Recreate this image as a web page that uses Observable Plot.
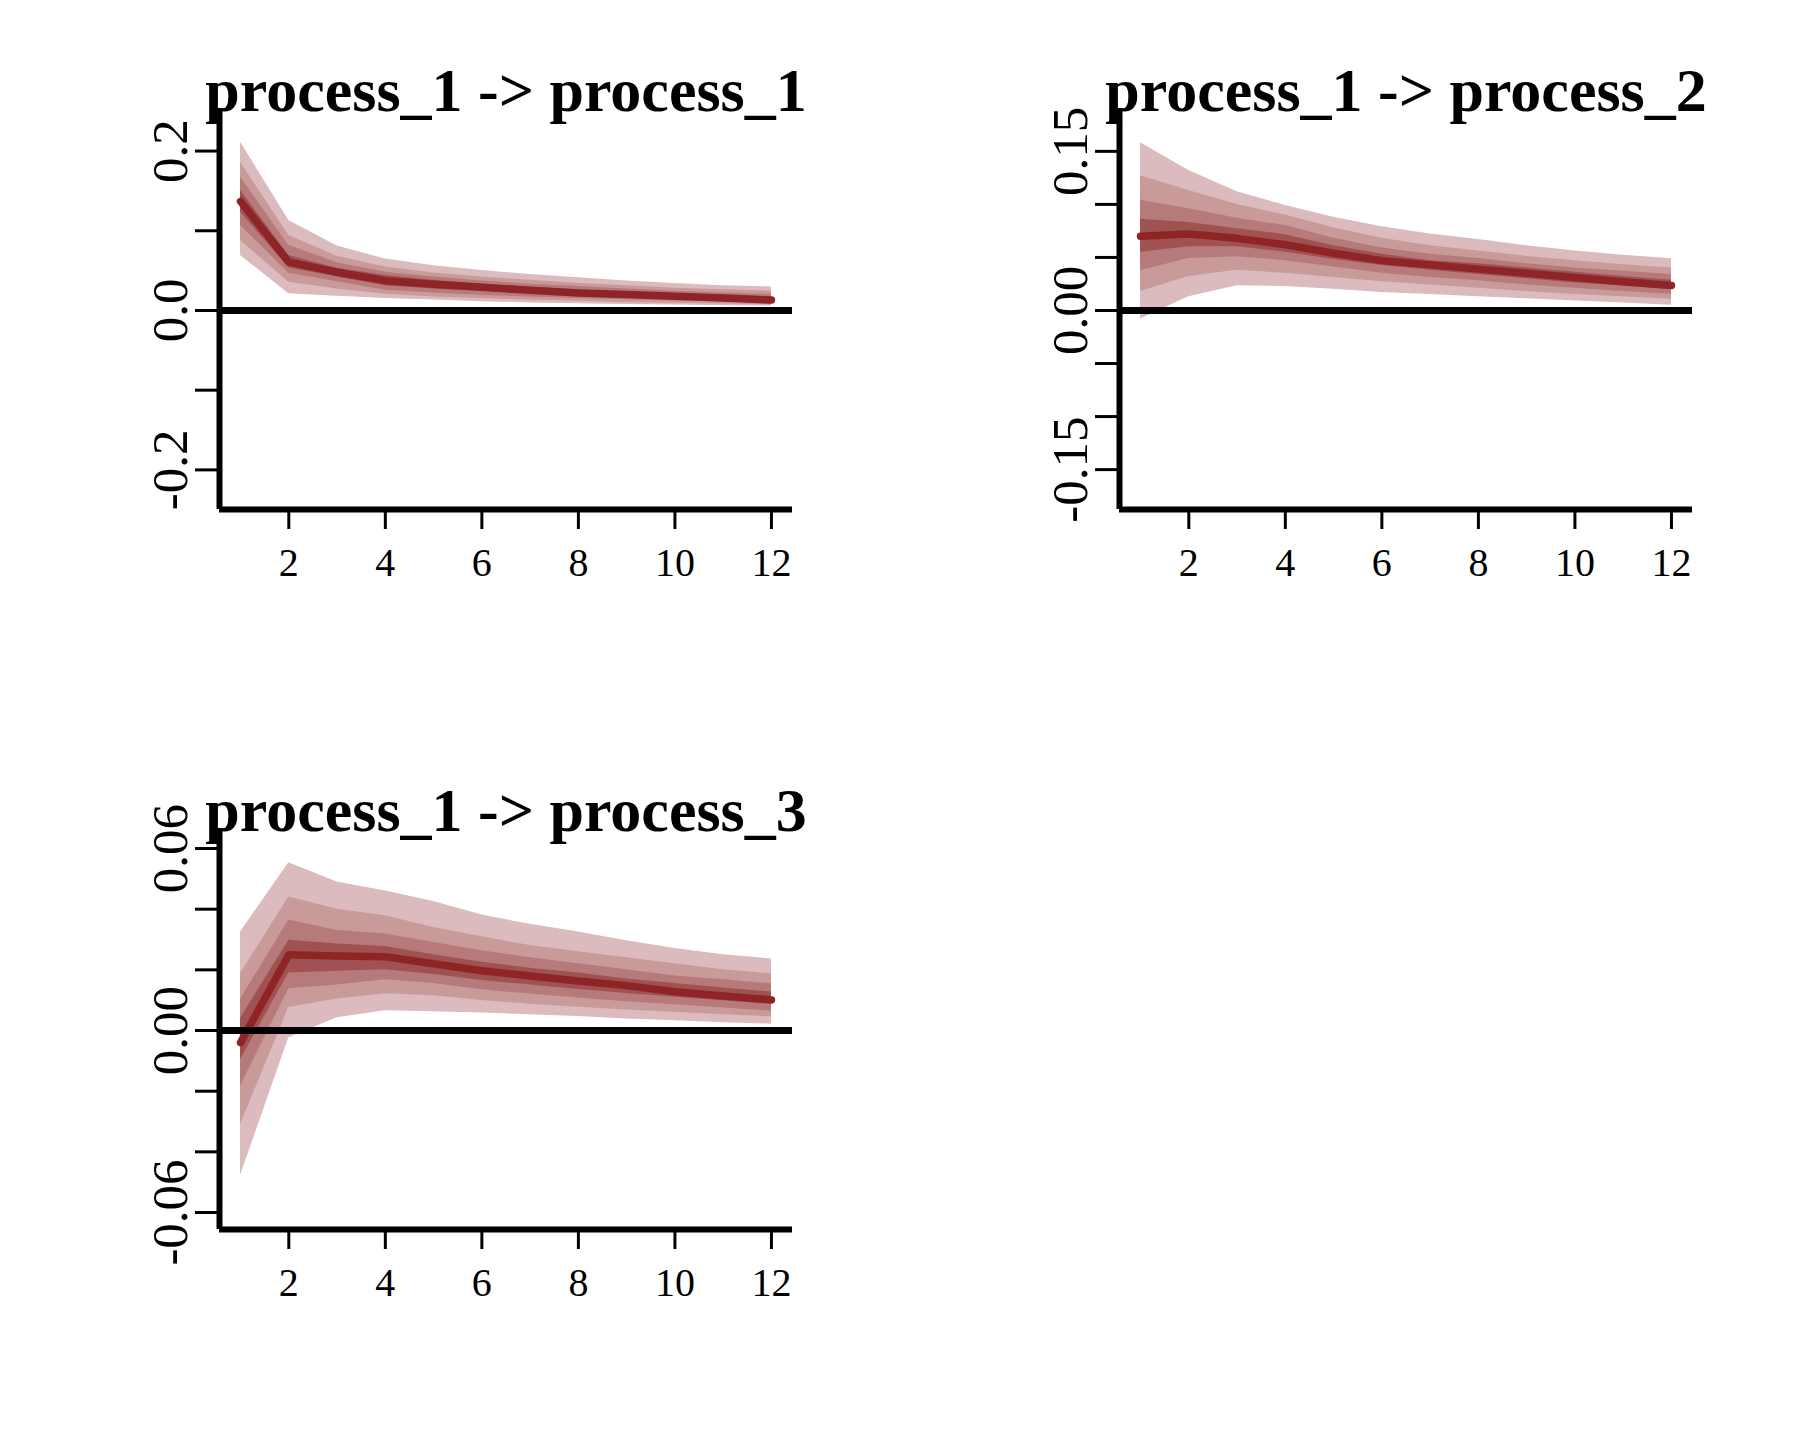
<!DOCTYPE html>
<html>
<head>
<meta charset="utf-8">
<script src="https://cdn.jsdelivr.net/npm/d3@7"></script>
<script src="https://cdn.jsdelivr.net/npm/@observablehq/plot@0.6"></script>
<style>
  html, body { margin: 0; padding: 0; background: #ffffff; }
  #page { position: relative; width: 1800px; height: 1440px; background: #ffffff; }
  .cell { position: absolute; width: 900px; height: 720px; }
</style>
</head>
<body>
<div id="page">
  <div class="cell" id="c1" style="left:0;top:0"></div>
  <div class="cell" id="c2" style="left:900px;top:0"></div>
  <div class="cell" id="c3" style="left:0;top:720px"></div>
</div>
<script>
// ---------- data ----------
const horizon = [1, 2, 3, 4, 5, 6, 7, 8, 9, 10, 11, 12];
const xTicks = [2, 4, 6, 8, 10, 12];

const titles = ["process_1 -> process_1", "process_1 -> process_2", "process_1 -> process_3"];

// process_1 -> process_1
const p1Median = [0.1368, 0.0606, 0.048, 0.0374, 0.033, 0.029, 0.0255, 0.022, 0.020, 0.018, 0.0155, 0.013];
const p1Upper4 = [0.211, 0.113, 0.081, 0.0645, 0.056, 0.050, 0.045, 0.041, 0.037, 0.034, 0.031, 0.0295];
const p1Upper3 = [0.186, 0.094, 0.068, 0.0546, 0.047, 0.042, 0.038, 0.034, 0.031, 0.028, 0.026, 0.024];
const p1Upper2 = [0.167, 0.0816, 0.060, 0.048, 0.042, 0.037, 0.033, 0.030, 0.027, 0.024, 0.022, 0.020];
const p1Upper1 = [0.1506, 0.069, 0.053, 0.0439, 0.038, 0.033, 0.029, 0.026, 0.023, 0.021, 0.019, 0.017];
const p1Lower1 = [0.1234, 0.0535, 0.042, 0.031, 0.027, 0.024, 0.021, 0.019, 0.017, 0.015, 0.013, 0.011];
const p1Lower2 = [0.1066, 0.0468, 0.036, 0.0254, 0.022, 0.019, 0.017, 0.015, 0.0135, 0.012, 0.0105, 0.009];
const p1Lower3 = [0.0878, 0.0355, 0.027, 0.0202, 0.017, 0.015, 0.013, 0.0115, 0.010, 0.009, 0.008, 0.007];
const p1Lower4 = [0.069, 0.021, 0.018, 0.0151, 0.013, 0.011, 0.0095, 0.0085, 0.0075, 0.0068, 0.006, 0.0055];

// process_1 -> process_2
const p2Median = [0.070, 0.072, 0.068, 0.062, 0.054, 0.047, 0.043, 0.039, 0.035, 0.031, 0.027, 0.0235];
const p2Upper4 = [0.158, 0.132, 0.112, 0.099, 0.088, 0.079, 0.072, 0.067, 0.061, 0.056, 0.052, 0.0487];
const p2Upper3 = [0.127, 0.113, 0.100, 0.090, 0.078, 0.068, 0.061, 0.056, 0.051, 0.047, 0.043, 0.040];
const p2Upper2 = [0.104, 0.096, 0.087, 0.080, 0.068, 0.059, 0.053, 0.049, 0.044, 0.040, 0.037, 0.034];
const p2Upper1 = [0.086, 0.083, 0.077, 0.0715, 0.061, 0.053, 0.047, 0.044, 0.040, 0.036, 0.032, 0.0284];
const p2Lower1 = [0.055, 0.060, 0.060, 0.055, 0.048, 0.0425, 0.038, 0.034, 0.030, 0.026, 0.023, 0.0197];
const p2Lower2 = [0.0375, 0.049, 0.0506, 0.047, 0.041, 0.035, 0.031, 0.028, 0.024, 0.021, 0.018, 0.0153];
const p2Lower3 = [0.018, 0.032, 0.038, 0.035, 0.031, 0.027, 0.024, 0.021, 0.018, 0.015, 0.013, 0.0106];
const p2Lower4 = [-0.008, 0.013, 0.0234, 0.0225, 0.020, 0.017, 0.015, 0.013, 0.011, 0.009, 0.007, 0.005];

// process_1 -> process_3
const p3Median = [-0.004, 0.025, 0.0246, 0.0243, 0.022, 0.0197, 0.018, 0.0163, 0.0148, 0.0128, 0.0114, 0.0101];
const p3Upper4 = [0.0325, 0.0553, 0.049, 0.046, 0.0425, 0.0381, 0.035, 0.0325, 0.0296, 0.027, 0.025, 0.0236];
const p3Upper3 = [0.0188, 0.0440, 0.040, 0.0378, 0.034, 0.0309, 0.028, 0.026, 0.024, 0.022, 0.020, 0.0187];
const p3Upper2 = [0.0103, 0.0364, 0.033, 0.0318, 0.029, 0.0263, 0.024, 0.022, 0.020, 0.018, 0.0167, 0.0154];
const p3Upper1 = [0.004, 0.0298, 0.0285, 0.0277, 0.025, 0.0225, 0.0205, 0.019, 0.017, 0.0155, 0.014, 0.0127];
const p3Lower1 = [-0.0096, 0.019, 0.0195, 0.020, 0.0185, 0.0165, 0.015, 0.0135, 0.0122, 0.011, 0.0098, 0.0086];
const p3Lower2 = [-0.0183, 0.0138, 0.015, 0.0167, 0.0155, 0.0134, 0.012, 0.0107, 0.0095, 0.0085, 0.0074, 0.0064];
const p3Lower3 = [-0.031, 0.0076, 0.0104, 0.0121, 0.0115, 0.0099, 0.0087, 0.0077, 0.0068, 0.006, 0.0052, 0.0045];
const p3Lower4 = [-0.0478, -0.0024, 0.0042, 0.0065, 0.0062, 0.0058, 0.0052, 0.0046, 0.0038, 0.0032, 0.0026, 0.0021];

// axis ticks and labels per panel
const p1YTicks = [-0.2, -0.1, 0, 0.1, 0.2];
const p1YLabels = [-0.2, 0, 0.2];
const p2YTicks = [-0.15, -0.10, -0.05, 0, 0.05, 0.10, 0.15];
const p2YLabels = [-0.15, 0, 0.15];
const p3YTicks = [-0.06, -0.04, -0.02, 0, 0.02, 0.04, 0.06];
const p3YLabels = [-0.06, 0, 0.06];

// ---------- drawing ----------
const serif = "'Liberation Serif', 'Times New Roman', Times, serif";
const bandColors = ["#DBBBBD", "#C99A9A", "#B77A7A", "#A05252"];
const lineColor = "#8E2426";
const xDomain = [0.564, 12.436];

function fmtFixed(n) {
  return d => (d < 0 ? "-" : "") + Math.abs(d).toFixed(n);
}

function panel(el, cfg) {
  const rows = horizon.map((h, i) => ({
    h,
    m: cfg.median[i],
    u1: cfg.u[0][i], u2: cfg.u[1][i], u3: cfg.u[2][i], u4: cfg.u[3][i],
    l1: cfg.l[0][i], l2: cfg.l[1][i], l3: cfg.l[2][i], l4: cfg.l[3][i]
  }));
  const chart = Plot.plot({
    width: 900,
    height: 720,
    marginLeft: 219,
    marginRight: 108,
    marginTop: 108,
    marginBottom: 211,
    style: { fontFamily: serif, fontSize: "40px", background: "#ffffff", overflow: "visible" },
    x: { domain: xDomain },
    y: { domain: cfg.yDomain },
    marks: [
      Plot.areaY(rows, { x: "h", y1: "l4", y2: "u4", fill: bandColors[0] }),
      Plot.areaY(rows, { x: "h", y1: "l3", y2: "u3", fill: bandColors[1] }),
      Plot.areaY(rows, { x: "h", y1: "l2", y2: "u2", fill: bandColors[2] }),
      Plot.areaY(rows, { x: "h", y1: "l1", y2: "u1", fill: bandColors[3] }),
      Plot.line(rows, { x: "h", y: "m", stroke: lineColor, strokeWidth: 7.5 }),
      Plot.ruleY([0], { stroke: "#000", strokeWidth: 7 }),
      Plot.ruleX([xDomain[0]], { stroke: "#000", strokeWidth: 6 }),
      Plot.ruleY([cfg.yDomain[0]], { stroke: "#000", strokeWidth: 6 }),
      Plot.axisX({ ticks: xTicks, tickSize: 20, tickPadding: 18, fontSize: 40, strokeWidth: 3,
                   label: null, tickFormat: d => String(d), fontFamily: serif }),
      Plot.axisY({ ticks: cfg.yTicks, tickSize: 24, strokeWidth: 3, label: null, tickFormat: () => "" }),
      Plot.text(cfg.yLabels, { y: d => d, text: cfg.fmt, frameAnchor: "left", rotate: -90, dx: -49,
                               textAnchor: "middle", lineAnchor: "middle", fontSize: 51, fontFamily: serif }),
      Plot.text([cfg.title], { text: d => d, frameAnchor: "top", lineAnchor: "bottom", dy: 2,
                               fontSize: 62, fontWeight: "bold", fontFamily: serif, fill: "#000" })
    ]
  });
  document.getElementById(el).appendChild(chart);
}

panel("c1", {
  title: titles[0], median: p1Median,
  u: [p1Upper1, p1Upper2, p1Upper3, p1Upper4], l: [p1Lower1, p1Lower2, p1Lower3, p1Lower4],
  yDomain: [-0.2497, 0.2534], yTicks: p1YTicks, yLabels: p1YLabels, fmt: fmtFixed(1)
});
panel("c2", {
  title: titles[1], median: p2Median,
  u: [p2Upper1, p2Upper2, p2Upper3, p2Upper4], l: [p2Lower1, p2Lower2, p2Lower3, p2Lower4],
  yDomain: [-0.1876, 0.1904], yTicks: p2YTicks, yLabels: p2YLabels, fmt: fmtFixed(2)
});
panel("c3", {
  title: titles[2], median: p3Median,
  u: [p3Upper1, p3Upper2, p3Upper3, p3Upper4], l: [p3Lower1, p3Lower2, p3Lower3, p3Lower4],
  yDomain: [-0.0656, 0.0666], yTicks: p3YTicks, yLabels: p3YLabels, fmt: fmtFixed(2)
});
</script>
</body>
</html>
